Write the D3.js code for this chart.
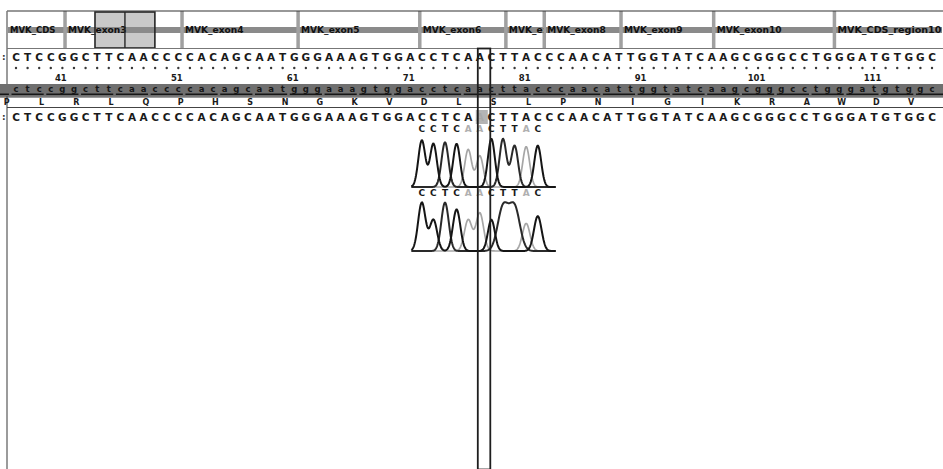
<!DOCTYPE html>
<html>
<head>
<meta charset="utf-8">
<script src="https://cdn.jsdelivr.net/npm/d3@7"></script>
<style>
  body { margin: 0; background: #fff; }
  svg { display: block; }
  text { font-family: "DejaVu Sans", "Liberation Sans", sans-serif; font-weight: bold; }
</style>
</head>
<body>
<svg id="vis" width="943" height="469"></svg>
<script>
// exon track (overview units, 0..100 across the panel)
var exonNames = ['MVK_CDS', 'MVK_exon3', 'MVK_exon4', 'MVK_exon5', 'MVK_exon6', 'MVK_exon7',
                 'MVK_exon8', 'MVK_exon9', 'MVK_exon10', 'MVK_CDS_region10'];
var exonStarts = [0, 6.2, 18.7, 31.1, 44.1, 53.3, 57.4, 65.6, 75.5, 88.4];
var exonEnd = 100;
var highlight = [9.4, 12.6, 15.8];

// reference sequence shown (index 0..79)
var refSeq = 'CTCCGGCTTCAACCCCACAGCAATGGGAAAGTGGACCTCAACTTACCCAACATTGGTATCAAGCGGGCCTGGGATGTGGC';
var aminoAcids = ['P', 'L', 'R', 'L', 'Q', 'P', 'H', 'S', 'N', 'G', 'K', 'V', 'D', 'L',
                  'S', 'L', 'P', 'N', 'I', 'G', 'I', 'K', 'R', 'A', 'W', 'D', 'V'];
var firstCodon = -1;          // codon index of the first amino acid shown
var posLabels = [41, 51, 61, 71, 81, 91, 101, 111];
var posOffset = 37;           // sequence number of index 0
var variantIndex = 40;

// chromatogram traces around the variant
var traceStart = 35;
var traceBases = 'CCTCAACTTAC';
var topPeaks = [0.97, 0.9, 0.93, 0.9, 0.78, 0.65, 1.0, 1.0, 0.86, 0.84, 0.86];
var botPeaks = [0.93, 0.6, 0.93, 0.8, 0.6, 0.73, 0.6, 0.83, 0.83, 0.53, 0.67];
var topWidths = [0.3, 0.3, 0.3, 0.3, 0.3, 0.3, 0.3, 0.3, 0.3, 0.3, 0.3];
var botWidths = [0.32, 0.32, 0.32, 0.32, 0.33, 0.33, 0.3, 0.46, 0.46, 0.33, 0.33];

var baseColor = { A: '#a6a6a6', C: '#151515', T: '#2a2a2a', G: '#000' };

var svg = d3.select('#vis');
var W = 943, H = 469;

var x = d3.scaleLinear().domain([0, 79]).range([16, 932]);
var ov = d3.scaleLinear().domain([0, 100]).range([7, 943]);

// ---- exon track ----
var exons = exonNames.map(function (n, i) {
    return { name: n, start: exonStarts[i], end: i < exonStarts.length - 1 ? exonStarts[i + 1] : exonEnd };
});

var defs = svg.append('defs');
exons.forEach(function (e, i) {
    defs.append('clipPath').attr('id', 'ex' + i)
      .append('rect').attr('x', ov(e.start) + 2).attr('y', 11)
      .attr('width', ov(e.end) - ov(e.start) - 3).attr('height', 37);
});

svg.append('rect')
    .attr('x', ov(highlight[0])).attr('y', 12)
    .attr('width', ov(highlight[2]) - ov(highlight[0])).attr('height', 36)
    .attr('fill', '#c9c9c9');

svg.selectAll('.bar').data(exons).enter().append('rect')
    .attr('x', function (d) { return ov(d.start) + 1; })
    .attr('y', 27).attr('height', 6)
    .attr('width', function (d) { return ov(d.end) - ov(d.start) - 2; })
    .attr('fill', '#8a8a8a');

svg.selectAll('.sep').data(exons.slice(1)).enter().append('rect')
    .attr('x', function (d) { return ov(d.start) - 1.75; })
    .attr('y', 11).attr('width', 3.5).attr('height', 37)
    .attr('fill', '#a0a0a0');

// labels are cut off at the end of their segment, as in the viewer
svg.selectAll('.exlab').data(exons).enter().append('text')
    .attr('clip-path', function (d, i) { return 'url(#ex' + i + ')'; })
    .attr('x', function (d) { return ov(d.start) + 3; })
    .attr('y', 30).attr('dy', '0.35em')
    .attr('font-size', 8).attr('fill', '#111')
    .attr('textLength', function (d) { return d.name.length * 6.5; })
    .attr('lengthAdjust', 'spacingAndGlyphs')
    .text(function (d) { return d.name; });

svg.append('rect')
    .attr('x', ov(highlight[0])).attr('y', 12)
    .attr('width', ov(highlight[2]) - ov(highlight[0])).attr('height', 36)
    .attr('fill', 'none').attr('stroke', '#262626').attr('stroke-width', 1.6);
svg.append('line')
    .attr('x1', ov(highlight[1])).attr('x2', ov(highlight[1]))
    .attr('y1', 12).attr('y2', 48)
    .attr('stroke', '#262626').attr('stroke-width', 1.4);

// frame lines
svg.append('line').attr('x1', 7).attr('x2', W).attr('y1', 11).attr('y2', 11)
    .attr('stroke', '#333').attr('stroke-width', 1.2);
svg.append('line').attr('x1', 7).attr('x2', W).attr('y1', 48.5).attr('y2', 48.5)
    .attr('stroke', '#777').attr('stroke-width', 1);
svg.append('line').attr('x1', 7).attr('x2', 7).attr('y1', 11).attr('y2', H)
    .attr('stroke', '#7a7a7a').attr('stroke-width', 1.5);

// ---- sequence rows ----
var bases = refSeq.split('').map(function (b, i) { return { b: b, i: i }; });

// variant cell shading in the second row
svg.append('rect')
    .attr('x', x(variantIndex) - 4).attr('y', 110)
    .attr('width', 12).attr('height', 14).attr('fill', '#b4b4b4');

function seqRow(y, cls, faded) {
    svg.selectAll('.' + cls).data(bases).enter().append('text')
        .attr('class', cls)
        .attr('x', function (d) { return x(d.i); })
        .attr('y', y).attr('dy', '0.35em')
        .attr('text-anchor', 'middle')
        .attr('font-size', 10.5)
        .attr('fill', function (d) { return faded && d.i === variantIndex ? '#a8a8a8' : '#1a1a1a'; })
        .text(function (d) { return d.b; });
    svg.append('text').attr('x', 2).attr('y', y).attr('dy', '0.35em')
        .attr('font-size', 9).attr('fill', '#333').text(':');
}
seqRow(57, 'seq1', false);
seqRow(117, 'seq2', true);

// position dots and labels
svg.selectAll('.dot').data(bases).enter().append('circle')
    .attr('cx', function (d) { return x(d.i); })
    .attr('cy', 68).attr('r', 1.2).attr('fill', '#3a3a3a');

svg.selectAll('.pos').data(posLabels).enter().append('text')
    .attr('x', function (d) { return x(d - posOffset) - 1.5; })
    .attr('y', 78).attr('dy', '0.35em')
    .attr('text-anchor', 'middle').attr('font-size', 8.5).attr('fill', '#1a1a1a')
    .text(function (d) { return d; });

// codon band
svg.append('rect').attr('x', 0).attr('y', 84).attr('width', W).attr('height', 12.5)
    .attr('fill', '#6f6f6f');
svg.selectAll('.codon').data(bases).enter().append('text')
    .attr('x', function (d) { return x(d.i); })
    .attr('y', 89.5).attr('dy', '0.35em')
    .attr('text-anchor', 'middle').attr('font-size', 8.5).attr('fill', '#161616')
    .text(function (d) { return d.b.toLowerCase(); });
var codonIdx = d3.range(firstCodon, firstCodon + aminoAcids.length + 1);
svg.selectAll('.uline').data(codonIdx).enter().append('line')
    .attr('x1', function (j) { return x(3 * j) - 4.5; })
    .attr('x2', function (j) { return x(3 * j + 2) + 4.5; })
    .attr('y1', 94.2).attr('y2', 94.2)
    .attr('stroke', '#161616').attr('stroke-width', 1.5);
svg.append('line').attr('x1', 0).attr('x2', W).attr('y1', 97).attr('y2', 97)
    .attr('stroke', '#3a3a3a').attr('stroke-width', 1);

// amino acid row
svg.selectAll('.aa').data(aminoAcids).enter().append('text')
    .attr('x', function (d, k) { return x(3 * (firstCodon + k) + 2.2); })
    .attr('y', 102).attr('dy', '0.35em')
    .attr('text-anchor', 'middle').attr('font-size', 8).attr('fill', '#1a1a1a')
    .text(function (d) { return d; });
svg.append('line').attr('x1', 7).attr('x2', W).attr('y1', 107.5).attr('y2', 107.5)
    .attr('stroke', '#444').attr('stroke-width', 1);

// ---- chromatograms ----
function drawTrace(labelY, baseY, height, peaks, widths) {
    var peakList = traceBases.split('').map(function (b, k) {
        return { b: b, i: traceStart + k, h: peaks[k], w: widths[k] };
    });
    svg.selectAll(null).data(peakList).enter().append('text')
        .attr('x', function (d) { return x(d.i); })
        .attr('y', labelY).attr('dy', '0.35em')
        .attr('text-anchor', 'middle').attr('font-size', 9)
        .attr('fill', function (d) { return d.b === 'A' ? '#b0b0b0' : '#1a1a1a'; })
        .text(function (d) { return d.b; });

    var y = d3.scaleLinear().domain([0, 1]).range([baseY, baseY - height]);
    var xs = d3.range(traceStart - 0.9, traceStart + traceBases.length + 0.55, 0.04);
    ['A', 'T', 'C'].forEach(function (b) {
        var mine = peakList.filter(function (p) { return p.b === b; });
        var pts = xs.map(function (t) {
            var v = d3.sum(mine, function (p) {
                return p.h * Math.exp(-Math.pow(t - p.i, 2) / (2 * p.w * p.w));
            });
            return [t, Math.min(v, 1.05)];
        });
        svg.append('path')
            .attr('d', d3.line().x(function (d) { return x(d[0]); })
                .y(function (d) { return y(d[1]); })(pts))
            .attr('fill', 'none')
            .attr('stroke', baseColor[b])
            .attr('stroke-width', b === 'A' ? 1.7 : 2);
    });
}
drawTrace(129, 187, 48, topPeaks, topWidths);
drawTrace(193, 251, 52, botPeaks, botWidths);

// variant column box
svg.append('rect')
    .attr('x', x(variantIndex) - 2).attr('y', 48.5)
    .attr('width', 12.5).attr('height', H - 48)
    .attr('fill', 'none').attr('stroke', '#1e1e1e').attr('stroke-width', 1.8);
</script>
</body>
</html>
